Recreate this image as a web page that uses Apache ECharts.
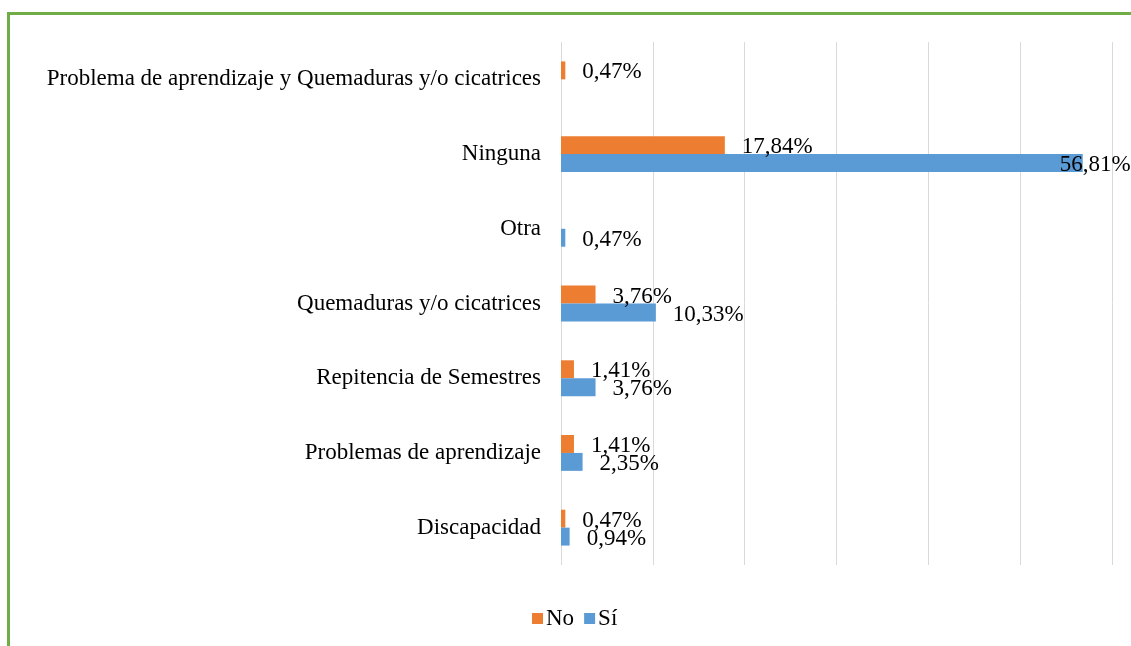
<!DOCTYPE html>
<html>
<head>
<meta charset="utf-8">
<script src="https://cdn.jsdelivr.net/npm/echarts@6/dist/echarts.min.js"></script>
<style>
html,body{margin:0;padding:0;background:#fff;}
#frame{position:absolute;left:7px;top:12px;width:1130px;height:640px;border-left:3px solid #70ad47;border-top:3px solid #70ad47;}
#main{position:absolute;left:0;top:0;width:1131px;height:646px;}
</style>
</head>
<body>
<div id="frame"></div>
<div id="main"></div>
<script>
// 类别（从下到上）
var categories = ['Discapacidad', 'Problemas de aprendizaje', 'Repitencia de Semestres', 'Quemaduras y/o cicatrices', 'Otra', 'Ninguna', 'Problema de aprendizaje y Quemaduras y/o cicatrices'];
var noValues = [0.47, 1.41, 1.41, 3.76, null, 17.84, 0.47];
var siValues = [0.94, 2.35, 3.76, 10.33, 0.47, 56.81, null];
var xTicks = [0, 10, 20, 30, 40, 50, 60];

var serif = '"Liberation Serif", "Times New Roman", serif';

function fmt(p){
    return p.value.toFixed(2).replace('.', ',') + '%';
}

// 最长的标签往左移一点
function buildData(values){
    var out = [];
    for (var i = 0; i < values.length; i++) {
        if (values[i] > 50) {
            out.push({value: values[i], label: {offset: [-40, 2]}});
        } else {
            out.push(values[i]);
        }
    }
    return out;
}

var labelStyle = {
    show: true,
    position: 'right',
    distance: 17,
    offset: [0, 2],
    color: '#000',
    fontFamily: serif,
    fontSize: 23,
    formatter: fmt
};

var myChart = echarts.init(document.getElementById('main'));
var option = {
    animation: false,
    legend: {
        data: ['No', 'Sí'],
        left: 527,
        top: 602,
        icon: 'rect',
        itemWidth: 11,
        itemHeight: 11,
        itemGap: 10,
        textStyle: {fontFamily: serif, fontSize: 23, color: '#000', padding: [0, 0, 0, -2]}
    },
    grid: {left: 561, right: 19, top: 42, bottom: 81},
    xAxis: {
        type: 'value',
        min: xTicks[0],
        max: xTicks[xTicks.length - 1],
        interval: 10,
        axisLabel: {show: false},
        axisLine: {show: false},
        axisTick: {show: false},
        splitLine: {lineStyle: {color: '#d9d9d9', width: 1}}
    },
    yAxis: {
        type: 'category',
        data: categories,
        axisLine: {show: false},
        axisTick: {show: false},
        axisLabel: {fontFamily: serif, fontSize: 23, color: '#000', margin: 20}
    },
    series: [{
        name: 'No',
        type: 'bar',
        data: buildData(noValues),
        itemStyle: {color: '#ed7d31'},
        barGap: 0,
        barCategoryGap: '52%',
        label: labelStyle
    }, {
        name: 'Sí',
        type: 'bar',
        data: buildData(siValues),
        itemStyle: {color: '#5b9bd5'},
        barGap: 0,
        barCategoryGap: '52%',
        label: labelStyle
    }]
};
myChart.setOption(option);
window.addEventListener('resize', function(){
    myChart.resize();
});
</script>
</body>
</html>
